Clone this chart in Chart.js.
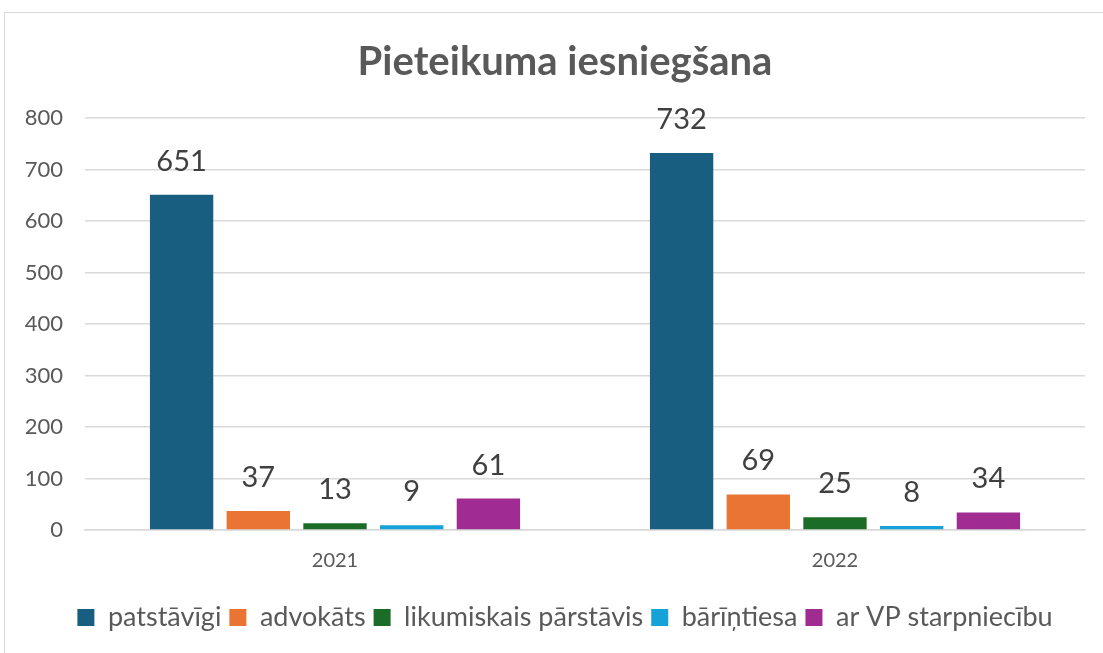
<!DOCTYPE html>
<html><head><meta charset="utf-8">
<script src="https://cdn.jsdelivr.net/npm/chart.js@4/dist/chart.umd.min.js"></script>
<style>
html,body{margin:0;padding:0;background:#fff;}
#wrap{position:absolute;left:4px;top:12px;width:1110px;height:660px;border:1px solid #d9d9d9;box-sizing:border-box;}
#c{position:absolute;left:0;top:0;}
</style></head><body>
<div id="wrap"></div>
<canvas id="c" width="1103" height="653"></canvas>
<script>
const categories = ["2021", "2022"];
const seriesNames = ["patstāvīgi", "advokāts", "likumiskais pārstāvis", "bārīņtiesa", "ar VP starpniecību"];
const patstavigi = [651, 732];
const advokats = [37, 69];
const likumiskais = [13, 25];
const barintiesa = [9, 8];
const arVP = [61, 34];
const yTicks = [0, 100, 200, 300, 400, 500, 600, 700, 800];
const colors = ["#175e80", "#ea7434", "#1b6c27", "#15a2d9", "#a02c92"];
const seriesValues = [patstavigi, advokats, likumiskais, barintiesa, arVP];
const FONT = "Lato, 'Open Sans', sans-serif";

const mctx = document.createElement('canvas').getContext('2d');
mctx.font = "22px " + FONT;
const widestY = Math.max(...yTicks.map(v => mctx.measureText(String(v)).width));

const labelPlugin = {
  id: 'valueLabels',
  afterDatasetsDraw(chart) {
    const ctx = chart.ctx;
    ctx.save();
    ctx.font = "29px " + FONT;
    ctx.fillStyle = "#404040";
    ctx.textAlign = "center";
    ctx.textBaseline = "alphabetic";
    chart.data.datasets.forEach((ds, i) => {
      chart.getDatasetMeta(i).data.forEach((bar, j) => {
        ctx.fillText(String(ds.data[j]), bar.x, bar.y - 24);
      });
    });
    ctx.restore();
  }
};

new Chart(document.getElementById('c'), {
  type: 'bar',
  data: {
    labels: categories,
    datasets: seriesNames.map((n, i) => ({
      label: n, data: seriesValues[i], backgroundColor: colors[i],
      categoryPercentage: 0.767, barPercentage: 0.826
    }))
  },
  options: {
    responsive: false, animation: false,
    layout: { padding: { left: 45, right: 18, top: 14, bottom: 12 } },
    plugins: {
      title: { display: true, text: "Pieteikuma iesniegšana", color: "#595959",
        font: { family: FONT, size: 40, weight: 'bold' }, padding: { top: 24, bottom: 32 } },
      legend: { position: 'bottom', labels: { color: "#595959", font: { family: FONT, size: 27 },
        boxWidth: 17, boxHeight: 17, padding: 8 } },
      tooltip: { enabled: false }
    },
    scales: {
      x: { grid: { display: false }, border: { color: "#d9d9d9", width: 1.5 },
        afterFit: (s) => { s.height += 12; },
        ticks: { color: "#595959", font: { family: FONT, size: 20 }, padding: 11 } },
      y: { min: 0, max: 800, afterBuildTicks: (s) => { s.ticks = yTicks.map(v => ({ value: v })); },
        afterFit: (s) => { s.width = 40; },
        grid: { color: "#d9d9d9", lineWidth: 1.5, drawTicks: false }, border: { display: false },
        ticks: { color: "#595959", font: { family: FONT, size: 22 }, mirror: true, crossAlign: 'far',
          padding: -22 - widestY } }
    }
  },
  plugins: [labelPlugin]
});
</script>
</body></html>
